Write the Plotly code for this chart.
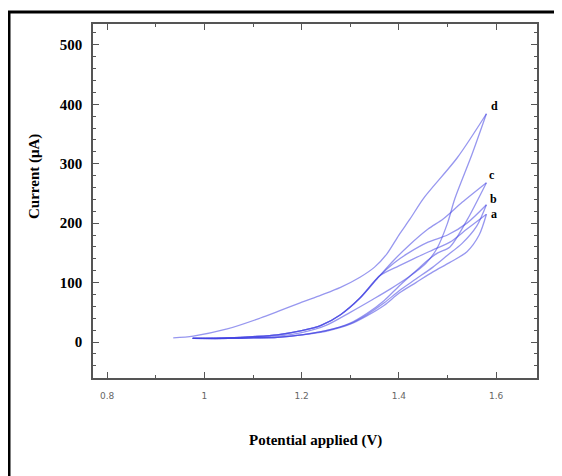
import plotly.graph_objects as go

# ---- data ----
labels = ["a", "b", "c", "d"]

# forward (lower) branches: potential (V), current (uA)
a_fwd_x = [0.976, 1.05, 1.10, 1.15, 1.20, 1.25, 1.30, 1.334, 1.37, 1.40, 1.435, 1.47, 1.505, 1.54, 1.565, 1.58]
a_fwd_y = [6, 6, 7, 8, 12, 18, 30, 44, 62, 82, 100, 118, 134, 152, 180, 215]
b_fwd_x = [0.976, 1.05, 1.10, 1.15, 1.20, 1.25, 1.30, 1.334, 1.37, 1.40, 1.435, 1.47, 1.50, 1.53, 1.56, 1.58]
b_fwd_y = [6, 6, 7, 8, 12, 19, 31, 46, 66, 86, 106, 126, 146, 166, 195, 231]
c_fwd_x = [0.976, 1.05, 1.10, 1.15, 1.20, 1.25, 1.30, 1.334, 1.37, 1.40, 1.43, 1.46, 1.48, 1.505, 1.54, 1.58]
c_fwd_y = [6, 6, 7, 8, 12, 19, 32, 48, 70, 94, 116, 138, 150, 160, 205, 268]
d_fwd_x = [0.976, 1.05, 1.10, 1.15, 1.20, 1.25, 1.30, 1.347, 1.382, 1.423, 1.455, 1.478, 1.50, 1.515, 1.55, 1.58]
d_fwd_y = [6, 7, 8, 10, 16, 28, 50, 72, 89, 111, 132, 157, 200, 241, 315, 384]

# reverse (upper) branches
a_rev_x = [1.58, 1.54, 1.505, 1.47, 1.43, 1.40, 1.36, 1.32, 1.28, 1.24, 1.20, 1.15, 1.10, 1.05, 0.976]
a_rev_y = [215, 190, 168, 155, 140, 128, 111, 74, 46, 28, 19, 12, 9, 7, 6]
b_rev_x = [1.58, 1.54, 1.50, 1.46, 1.42, 1.39, 1.36, 1.32, 1.28, 1.24, 1.20, 1.15, 1.10, 1.05, 0.976]
b_rev_y = [231, 200, 180, 168, 150, 133, 111, 74, 46, 28, 19, 12, 9, 7, 6]
c_rev_x = [1.58, 1.53, 1.491, 1.46, 1.42, 1.39, 1.36, 1.32, 1.28, 1.24, 1.20, 1.15, 1.10, 1.05, 0.976]
c_rev_y = [268, 235, 207, 190, 162, 138, 111, 74, 46, 28, 19, 12, 9, 7, 6]
d_rev_x = [1.58, 1.52, 1.45, 1.423, 1.40, 1.375, 1.35, 1.32, 1.28, 1.24, 1.197, 1.15, 1.114, 1.047, 0.977, 0.936]
d_rev_y = [384, 310, 241, 207, 180, 148, 126, 109, 92, 79, 66, 51, 40, 22, 10, 7]

label_x = [1.586, 1.584, 1.582, 1.586]
label_y = [215, 241, 281, 397]

x_tickvals = [0.8, 1.0, 1.2, 1.4, 1.6]
x_ticktext = ["0.8", "1", "1.2", "1.4", "1.6"]
y_tickvals = [0, 100, 200, 300, 400, 500]
y_ticktext = ["0", "100", "200", "300", "400", "500"]

fwd = [(a_fwd_x, a_fwd_y), (b_fwd_x, b_fwd_y), (c_fwd_x, c_fwd_y), (d_fwd_x, d_fwd_y)]
rev = [(a_rev_x, a_rev_y), (b_rev_x, b_rev_y), (c_rev_x, c_rev_y), (d_rev_x, d_rev_y)]

line_color = "rgba(65,65,225,0.55)"

fig = go.Figure()
for (fx, fy), (rx, ry) in zip(fwd, rev):
    for xs, ys in ((fx, fy), (rx, ry)):
        fig.add_trace(go.Scatter(
            x=xs, y=ys, mode="lines",
            line=dict(color=line_color, width=1.3, shape="spline", smoothing=0.8),
            showlegend=False, hoverinfo="skip"))

for lab, lx, ly in zip(labels, label_x, label_y):
    fig.add_annotation(x=lx, y=ly, text=lab, showarrow=False, xanchor="left",
                       yanchor="middle",
                       font=dict(family="Liberation Serif", size=12, color="black",
                                 weight="bold"))

axis_common = dict(
    showgrid=False, zeroline=False, showline=True, linecolor="#555555",
    linewidth=1.5, mirror="ticks", ticks="inside", tickcolor="#555555",
    tickwidth=1.2, ticklen=6,
)

fig.update_xaxes(
    range=[0.771, 1.684], tickvals=x_tickvals, ticktext=x_ticktext,
    tickfont=dict(family="DejaVu Sans", size=9, color="#666666"),
    ticklabelstandoff=8,
    minor=dict(dtick=0.1, tick0=0.8, ticks="inside", ticklen=3,
               tickcolor="#555555", tickwidth=1.2),
    **axis_common)
fig.update_yaxes(
    range=[-60.5, 535], tickvals=y_tickvals, ticktext=y_ticktext,
    tickfont=dict(family="Liberation Serif", size=15, color="black",
                  weight="bold"),
    ticklabelstandoff=6,
    minor=dict(dtick=20, tick0=0, ticks="inside", ticklen=3,
               tickcolor="#555555", tickwidth=1.2),
    **axis_common)

# plot area in figure pixels: left 85, right 529, top 16, bottom 370
PL, PR, PT, PB = 85, 529, 16, 370
PW, PH = PR - PL, PB - PT

# axis titles
fig.add_annotation(xref="paper", yref="paper", x=0.5, y=(PB - 432) / PH,
                   text="Potential applied (V)", showarrow=False,
                   xanchor="center", yanchor="middle",
                   font=dict(family="Liberation Serif", size=15, color="black",
                             weight="bold"))
fig.add_annotation(xref="paper", yref="paper", x=(27 - PL) / PW,
                   y=(PB - 169) / PH, text="Current (μA)", showarrow=False,
                   textangle=-90, xanchor="center", yanchor="middle",
                   font=dict(family="Liberation Serif", size=15, color="black",
                             weight="bold"))

# outer black frame (only top and left edges visible)
fig.add_shape(type="rect", xref="paper", yref="paper",
              x0=(1 - PL) / PW, x1=(600 - PL) / PW,
              y0=(PB - 520) / PH, y1=(PB - 4) / PH,
              line=dict(color="black", width=3), layer="below")

fig.update_layout(
    width=554, height=468,
    margin=dict(l=PL, r=554 - PR, t=PT, b=468 - PB),
    paper_bgcolor="white", plot_bgcolor="white",
)

fig.write_html("out.html")
